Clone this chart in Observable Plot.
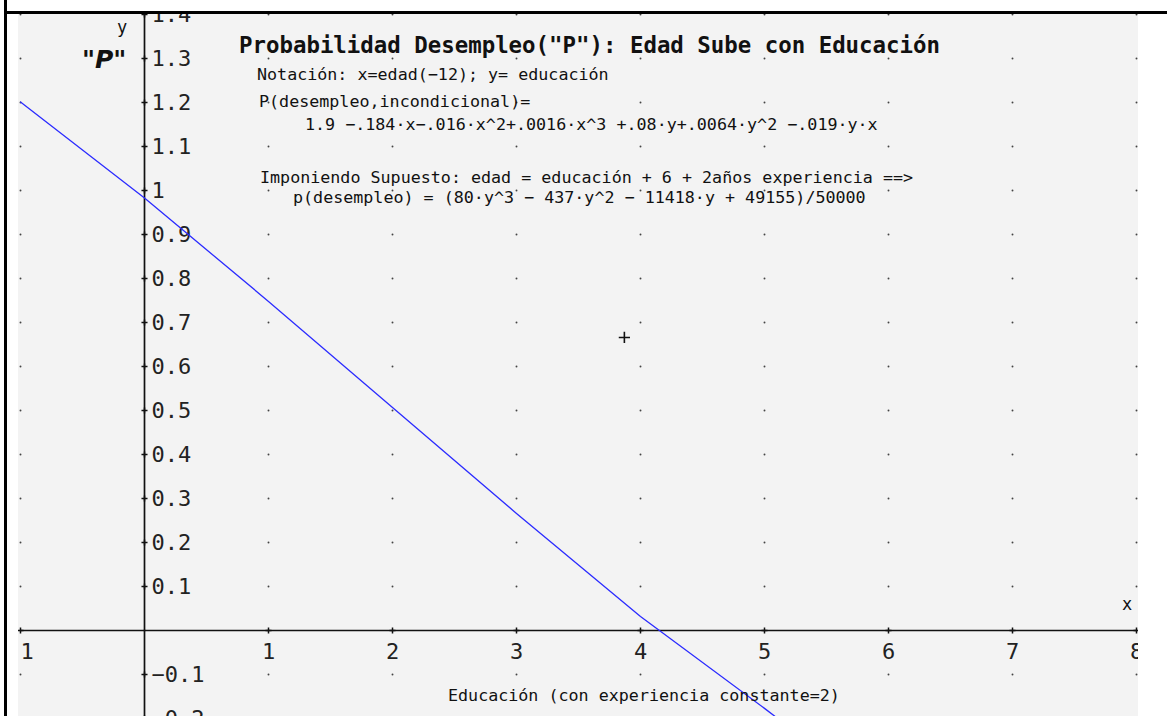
<!DOCTYPE html>
<html><head><meta charset="utf-8">
<script src="https://cdn.jsdelivr.net/npm/d3@7"></script>
<script src="https://cdn.jsdelivr.net/npm/@observablehq/plot@0.6"></script>
<style>
body{margin:0;background:#fff;}
#wrap{position:relative;width:1167px;height:716px;overflow:hidden;background:#fff;}
#frameTop{position:absolute;left:4px;top:11px;width:1163px;height:3px;background:#000;}
#frameLeft{position:absolute;left:4px;top:0;width:3px;height:716px;background:#000;}
#clip{position:absolute;left:18px;top:14px;width:1120px;height:702px;overflow:hidden;background:#f3f3f3;}
#clip svg{position:absolute;left:-18px;top:-14px;max-width:none !important;width:1167px !important;height:716px !important;}
</style>
</head><body>
<div id="wrap"><div id="frameLeft"></div><div id="frameTop"></div><div id="clip"></div></div>
<script>
// ---- data ----
const educacion     = [-1, 0, 1, 2, 3, 4, 5, 5.2];
const probDesempleo = [1.201, 0.983, 0.748, 0.507, 0.266, 0.032, -0.177, -0.22];

const xTicks      = [-1, 1, 2, 3, 4, 5, 6, 7, 8];
const xTickLabels = ["-1", "1", "2", "3", "4", "5", "6", "7", "8"];
const yTicks      = [-0.2, -0.1, 0.1, 0.2, 0.3, 0.4, 0.5, 0.6, 0.7, 0.8, 0.9, 1, 1.1, 1.2, 1.3, 1.4];
const yTickLabels = ["−0.2", "−0.1", "0.1", "0.2", "0.3", "0.4", "0.5", "0.6", "0.7", "0.8", "0.9", "1", "1.1", "1.2", "1.3", "1.4"];

const gridX = [-1, 0, 1, 2, 3, 4, 5, 6, 7, 8];
const gridY = [-0.2, -0.1, 0, 0.1, 0.2, 0.3, 0.4, 0.5, 0.6, 0.7, 0.8, 0.9, 1, 1.1, 1.2, 1.3, 1.4];

const cursorX = [3.87];
const cursorY = [0.666];

// ---- tables built from the arrays ----
const curve = educacion.map((x, i) => ({x, y: probDesempleo[i]}));
const grid = gridX.flatMap(x => gridY.map(y => ({x, y})));
const xTickData = xTicks.map((x, i) => ({x, y: 0, label: xTickLabels[i]}));
const yTickData = yTicks.map((y, i) => ({x: 0, y, label: yTickLabels[i]}));
const cursor = cursorX.map((x, i) => ({x, y: cursorY[i]}));

const mono = "DejaVu Sans Mono, monospace";

const chart = Plot.plot({
  width: 1167,
  height: 716,
  x: {domain: [-1, 8], range: [20, 1136], axis: null},
  y: {domain: [-0.2, 1.4], range: [718, 14], axis: null},
  style: {background: "transparent", maxWidth: "none"},
  marks: [
    Plot.dot(grid, {x: "x", y: "y", r: 0.95, fill: "#444", stroke: null}),
    Plot.ruleY([0], {x1: -1, x2: 8, stroke: "#111", strokeWidth: 1.7}),
    Plot.ruleX([0], {y1: -0.2, y2: 1.4, stroke: "#111", strokeWidth: 1.7}),
    Plot.dot(xTickData, {x: "x", y: "y", symbol: "plus", r: 2.1, stroke: "#111", strokeWidth: 1.5}),
    Plot.dot(yTickData, {x: "x", y: "y", symbol: "plus", r: 2.1, stroke: "#111", strokeWidth: 1.5}),
    Plot.text(xTickData, {x: "x", y: "y", text: "label", dy: 21.5, fontSize: 22, fontFamily: mono, fill: "#222"}),
    Plot.text(yTickData, {x: "x", y: "y", text: "label", dx: 7, textAnchor: "start", fontSize: 22, fontFamily: mono, fill: "#222"}),
    Plot.line(curve, {x: "x", y: "y", stroke: "#2b2bff", strokeWidth: 1.3}),
    Plot.dot(cursor, {x: "x", y: "y", symbol: "plus", r: 3.7, stroke: "#111", strokeWidth: 1.6})
  ]
});

const svg = d3.select(chart);
function note(txt, x, y, size, opts = {}) {
  svg.append("text")
    .attr("x", x).attr("y", y)
    .attr("font-family", opts.family || mono)
    .attr("font-size", size)
    .attr("font-weight", opts.weight || "normal")
    .attr("font-style", opts.style || "normal")
    .attr("text-anchor", opts.anchor || "start")
    .attr("fill", "#111")
    .style("white-space", "pre")
    .text(txt);
}
note('Probabilidad Desempleo("P"): Edad Sube con Educación', 239, 53, 22.4, {weight: "bold"});
note("Notación: x=edad(−12); y= educación", 257, 80, 16.7);
note("P(desempleo,incondicional)=", 259, 107, 16.7);
note("1.9 −.184·x−.016·x^2+.0016·x^3 +.08·y+.0064·y^2 −.019·y·x", 305, 130, 16.7);
note("Imponiendo Supuesto: edad = educación + 6 + 2años experiencia ==>", 260, 183, 16.7);
note("p(desempleo) = (80·y^3 − 437·y^2 − 11418·y + 49155)/50000", 293, 203, 16.7);
note("Educación (con experiencia constante=2)", 448, 701, 16.7);
note("y", 122, 33, 17, {anchor: "middle"});
note("x", 1127, 610, 17, {anchor: "middle"});
note('"P"', 82, 68, 25, {family: "DejaVu Sans, sans-serif", weight: "bold", style: "italic"});

document.getElementById("clip").appendChild(chart);
</script>
</body></html>
